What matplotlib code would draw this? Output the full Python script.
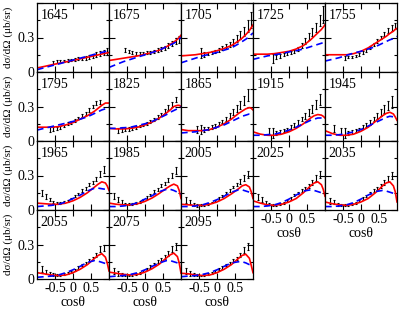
import matplotlib
matplotlib.use('Agg')
import matplotlib.pyplot as plt
import numpy as np

plt.rcParams['font.family'] = ['Liberation Serif', 'DejaVu Serif']
plt.rcParams['axes.unicode_minus'] = False

n = np.nan

# beam energies (MeV), one panel each
energies = [1645, 1675, 1705, 1725, 1755,
            1795, 1825, 1865, 1915, 1945,
            1965, 1985, 2005, 2025, 2035,
            2055, 2075, 2095]

# angle bins of the data
cos_data = [-0.85, -0.75, -0.65, -0.55, -0.45, -0.35, -0.25, -0.15, -0.05, 0.05,
            0.15, 0.25, 0.35, 0.45, 0.55, 0.65, 0.75, 0.85, 0.95]

# measured cross sections (ub/sr)
dsig = [
    [n, n, n, 0.085, 0.09, 0.09, 0.095, 0.10, 0.105, 0.11, 0.115, 0.12, 0.12, 0.13, 0.14, 0.15, 0.16, 0.17, 0.18],
    [n, n, n, 0.19, 0.18, 0.17, 0.16, 0.16, 0.16, 0.17, 0.17, 0.18, 0.19, 0.20, 0.21, 0.23, 0.25, 0.27, 0.28],
    [n, n, n, n, 0.165, 0.15, 0.16, 0.17, 0.18, 0.19, 0.21, 0.22, 0.24, 0.26, 0.29, 0.32, 0.35, 0.40, 0.45],
    [n, n, n, n, 0.12, 0.13, 0.14, 0.15, 0.16, 0.17, 0.18, 0.20, 0.23, 0.27, 0.31, 0.35, 0.39, 0.45, 0.50],
    [n, n, n, n, 0.12, 0.13, 0.13, 0.14, 0.15, 0.17, 0.19, 0.21, 0.24, 0.27, 0.30, 0.33, 0.36, 0.38, 0.40],
    [n, n, 0.10, 0.105, 0.11, 0.12, 0.13, 0.15, 0.16, 0.18, 0.20, 0.22, 0.24, 0.27, 0.30, 0.33, 0.34, n, n],
    [n, 0.09, 0.10, 0.10, 0.105, 0.11, 0.12, 0.13, 0.14, 0.15, 0.17, 0.19, 0.21, 0.23, 0.26, 0.29, 0.32, 0.36, n],
    [n, n, n, 0.10, 0.10, 0.10, 0.11, 0.12, 0.13, 0.15, 0.17, 0.19, 0.22, 0.25, 0.28, 0.31, 0.35, 0.40, n],
    [n, n, n, 0.08, 0.07, 0.07, 0.08, 0.09, 0.10, 0.12, 0.14, 0.16, 0.19, 0.22, 0.25, 0.28, 0.32, 0.36, n],
    [n, 0.11, n, 0.08, 0.07, 0.07, 0.08, 0.09, 0.10, 0.12, 0.14, 0.16, 0.19, 0.22, 0.25, 0.28, 0.31, 0.34, n],
    [0.15, 0.12, 0.09, 0.07, 0.06, 0.06, 0.07, 0.08, 0.10, 0.12, 0.14, 0.17, 0.19, 0.22, 0.24, 0.27, 0.31, 0.35, n],
    [0.12, 0.09, 0.07, 0.05, 0.05, 0.05, 0.06, 0.07, 0.09, 0.11, 0.13, 0.16, 0.18, 0.21, 0.23, 0.26, 0.30, 0.34, n],
    [0.09, 0.07, 0.05, 0.04, 0.04, 0.045, 0.05, 0.065, 0.08, 0.10, 0.12, 0.15, 0.17, 0.20, 0.22, 0.25, 0.28, 0.31, n],
    [0.11, 0.09, 0.06, 0.05, 0.04, 0.04, 0.05, 0.06, 0.08, 0.10, 0.13, 0.15, 0.17, 0.19, 0.21, 0.24, 0.28, 0.31, n],
    [0.08, 0.07, 0.05, 0.045, 0.04, 0.04, 0.05, 0.06, 0.08, 0.10, 0.12, 0.15, 0.17, 0.19, 0.21, 0.24, 0.27, 0.30, n],
    [0.09, 0.06, 0.05, 0.04, 0.035, 0.035, 0.04, 0.05, 0.06, 0.08, 0.10, 0.12, 0.14, 0.16, 0.18, 0.21, 0.26, 0.27, n],
    [0.07, 0.05, 0.04, 0.035, 0.03, 0.035, 0.04, 0.05, 0.07, 0.09, 0.11, 0.13, 0.15, 0.17, 0.19, 0.22, 0.26, 0.28, n],
    [0.07, 0.05, 0.04, 0.035, 0.03, 0.035, 0.04, 0.05, 0.07, 0.09, 0.10, 0.12, 0.14, 0.16, 0.18, 0.21, 0.25, 0.28, n],
]

# error bar sizes (three typical profiles)
err_small = [0.02, 0.02, 0.02, 0.015, 0.015, 0.012, 0.012, 0.012, 0.012, 0.012,
             0.012, 0.012, 0.015, 0.015, 0.015, 0.02, 0.02, 0.025, 0.03]
err_big = [0.03, 0.03, 0.03, 0.03, 0.04, 0.02, 0.015, 0.015, 0.015, 0.015,
           0.015, 0.02, 0.02, 0.025, 0.03, 0.035, 0.04, 0.05, 0.07]
err_late = [0.025, 0.02, 0.015, 0.01, 0.008, 0.008, 0.008, 0.008, 0.008, 0.01,
            0.01, 0.01, 0.012, 0.012, 0.015, 0.02, 0.025, 0.03, 0.03]
err_profile = [err_small, err_small, err_big, err_big, err_small,
               err_small, err_small, err_big, err_big, err_big,
               err_late, err_late, err_late, err_late, err_late,
               err_late, err_late, err_late]

# model curves, read at these angles
cos_fit = [-1.0, -0.8, -0.6, -0.4, -0.2, 0.0, 0.2, 0.4, 0.6, 0.7, 0.8, 0.9, 0.95, 1.0]

red_fit = [
    [0.035, 0.048, 0.062, 0.075, 0.088, 0.10, 0.115, 0.128, 0.142, 0.149, 0.156, 0.163, 0.166, 0.17],
    [0.10, 0.11, 0.12, 0.13, 0.14, 0.155, 0.17, 0.19, 0.22, 0.24, 0.26, 0.285, 0.30, 0.32],
    [0.14, 0.145, 0.15, 0.16, 0.17, 0.185, 0.205, 0.23, 0.27, 0.295, 0.325, 0.36, 0.385, 0.41],
    [0.155, 0.155, 0.155, 0.16, 0.17, 0.18, 0.20, 0.23, 0.28, 0.31, 0.34, 0.37, 0.39, 0.41],
    [0.15, 0.15, 0.15, 0.15, 0.16, 0.18, 0.21, 0.25, 0.29, 0.31, 0.335, 0.355, 0.37, 0.38],
    [0.12, 0.12, 0.12, 0.125, 0.14, 0.16, 0.19, 0.22, 0.26, 0.285, 0.31, 0.33, 0.33, 0.33],
    [0.11, 0.105, 0.105, 0.11, 0.12, 0.14, 0.165, 0.20, 0.245, 0.27, 0.30, 0.31, 0.31, 0.30],
    [0.10, 0.09, 0.09, 0.09, 0.10, 0.12, 0.15, 0.19, 0.24, 0.26, 0.28, 0.29, 0.285, 0.27],
    [0.08, 0.06, 0.05, 0.05, 0.06, 0.08, 0.11, 0.15, 0.20, 0.22, 0.23, 0.225, 0.215, 0.20],
    [0.09, 0.065, 0.05, 0.05, 0.06, 0.085, 0.12, 0.17, 0.22, 0.24, 0.25, 0.235, 0.21, 0.18],
    [0.06, 0.055, 0.05, 0.05, 0.06, 0.08, 0.11, 0.15, 0.20, 0.225, 0.245, 0.235, 0.21, 0.17],
    [0.06, 0.05, 0.045, 0.045, 0.055, 0.075, 0.105, 0.145, 0.19, 0.21, 0.225, 0.21, 0.17, 0.10],
    [0.05, 0.045, 0.04, 0.04, 0.05, 0.07, 0.10, 0.14, 0.185, 0.21, 0.22, 0.20, 0.16, 0.10],
    [0.08, 0.06, 0.045, 0.04, 0.05, 0.07, 0.10, 0.15, 0.21, 0.235, 0.245, 0.22, 0.18, 0.12],
    [0.07, 0.055, 0.045, 0.04, 0.05, 0.07, 0.10, 0.15, 0.21, 0.235, 0.245, 0.21, 0.16, 0.07],
    [0.055, 0.045, 0.035, 0.03, 0.035, 0.055, 0.085, 0.125, 0.18, 0.205, 0.22, 0.19, 0.14, 0.07],
    [0.06, 0.05, 0.04, 0.035, 0.04, 0.06, 0.09, 0.13, 0.185, 0.21, 0.225, 0.195, 0.14, 0.05],
    [0.05, 0.045, 0.035, 0.03, 0.035, 0.055, 0.085, 0.125, 0.18, 0.205, 0.215, 0.18, 0.12, 0.055],
]

blue_fit = [
    [0.02, 0.037, 0.054, 0.07, 0.087, 0.104, 0.12, 0.137, 0.154, 0.162, 0.17, 0.178, 0.183, 0.19],
    [0.04, 0.065, 0.09, 0.11, 0.13, 0.15, 0.17, 0.19, 0.22, 0.235, 0.25, 0.27, 0.285, 0.30],
    [0.08, 0.10, 0.12, 0.14, 0.155, 0.17, 0.19, 0.21, 0.245, 0.265, 0.285, 0.31, 0.325, 0.34],
    [0.11, 0.125, 0.14, 0.15, 0.16, 0.175, 0.185, 0.20, 0.22, 0.23, 0.24, 0.25, 0.255, 0.26],
    [0.095, 0.11, 0.125, 0.145, 0.165, 0.18, 0.20, 0.22, 0.25, 0.265, 0.28, 0.29, 0.30, 0.31],
    [0.095, 0.11, 0.125, 0.14, 0.155, 0.17, 0.19, 0.21, 0.24, 0.255, 0.27, 0.28, 0.29, 0.30],
    [0.11, 0.11, 0.115, 0.12, 0.135, 0.15, 0.17, 0.20, 0.23, 0.25, 0.265, 0.28, 0.29, 0.30],
    [0.07, 0.075, 0.08, 0.09, 0.10, 0.12, 0.14, 0.17, 0.20, 0.215, 0.225, 0.235, 0.235, 0.23],
    [0.05, 0.05, 0.055, 0.06, 0.075, 0.095, 0.12, 0.15, 0.18, 0.19, 0.20, 0.20, 0.20, 0.20],
    [0.05, 0.05, 0.055, 0.065, 0.08, 0.10, 0.13, 0.16, 0.19, 0.205, 0.215, 0.21, 0.205, 0.20],
    [0.03, 0.035, 0.04, 0.05, 0.07, 0.10, 0.13, 0.165, 0.19, 0.19, 0.185, 0.18, 0.175, 0.17],
    [0.03, 0.03, 0.035, 0.045, 0.065, 0.095, 0.125, 0.16, 0.18, 0.18, 0.17, 0.155, 0.15, 0.14],
    [0.03, 0.03, 0.035, 0.045, 0.065, 0.09, 0.12, 0.155, 0.175, 0.175, 0.165, 0.155, 0.145, 0.14],
    [0.03, 0.03, 0.035, 0.045, 0.065, 0.095, 0.13, 0.165, 0.175, 0.17, 0.16, 0.15, 0.145, 0.145],
    [0.03, 0.03, 0.035, 0.045, 0.065, 0.095, 0.13, 0.16, 0.17, 0.165, 0.155, 0.145, 0.135, 0.13],
    [0.015, 0.02, 0.025, 0.035, 0.055, 0.08, 0.11, 0.145, 0.16, 0.155, 0.145, 0.135, 0.13, 0.13],
    [0.02, 0.025, 0.03, 0.04, 0.055, 0.08, 0.11, 0.14, 0.16, 0.16, 0.15, 0.14, 0.135, 0.13],
    [0.02, 0.025, 0.03, 0.04, 0.055, 0.08, 0.11, 0.14, 0.15, 0.15, 0.14, 0.125, 0.12, 0.115],
]

W, H = 399, 311
fig = plt.figure(figsize=(W / 100, H / 100), dpi=100)

# grid in pixels
x0, pw = 37, 72
y0, ph = 3, 69

for i, e in enumerate(energies):
    row, col = divmod(i, 5)
    left = x0 + col * pw
    top = y0 + row * ph
    ax = fig.add_axes([left / W, (H - top - ph) / H, pw / W, ph / H])

    ax.errorbar(cos_data, dsig[i], yerr=err_profile[i], fmt='none', ecolor='black',
                elinewidth=0.8, capsize=1.0, capthick=0.8)
    ax.plot(cos_fit, red_fit[i], color='red', lw=1.2)
    ax.plot(cos_fit, blue_fit[i], color='blue', lw=1.2, ls=(0, (4, 2.5)))

    ax.set_xlim(-1, 1)
    ax.set_ylim(0, 0.6)
    ax.set_xticks([-0.5, 0, 0.5])
    ax.set_yticks([0, 0.3, 0.6])
    ax.set_yticks([0.15, 0.45], minor=True)
    ax.tick_params(direction='in', top=True, right=True, length=4, width=0.8, labelsize=10, pad=2)
    ax.tick_params(which='minor', direction='in', right=True, left=True, length=2, width=0.8)
    for s in ax.spines.values():
        s.set_linewidth(0.9)

    ax.text(0.05, 0.92, str(e), transform=ax.transAxes, fontsize=10, va='top', ha='left')

    if col == 0:
        ax.set_yticklabels(['0', '0.3', ''])
        fig.text(8 / W, (H - top - ph / 2) / H, 'dσ/dΩ (μb/sr)', rotation=90,
                 ha='center', va='center', fontsize=8)
    else:
        ax.set_yticklabels([])

    bottom_panel = (row == 3) or (row == 2 and col >= 3)
    if bottom_panel:
        ax.set_xticklabels(['-0.5', '0', '0.5'])
        ax.set_xlabel('cosθ', fontsize=10, labelpad=1)
    else:
        ax.set_xticklabels([])

fig.savefig('out.png', dpi=100)
